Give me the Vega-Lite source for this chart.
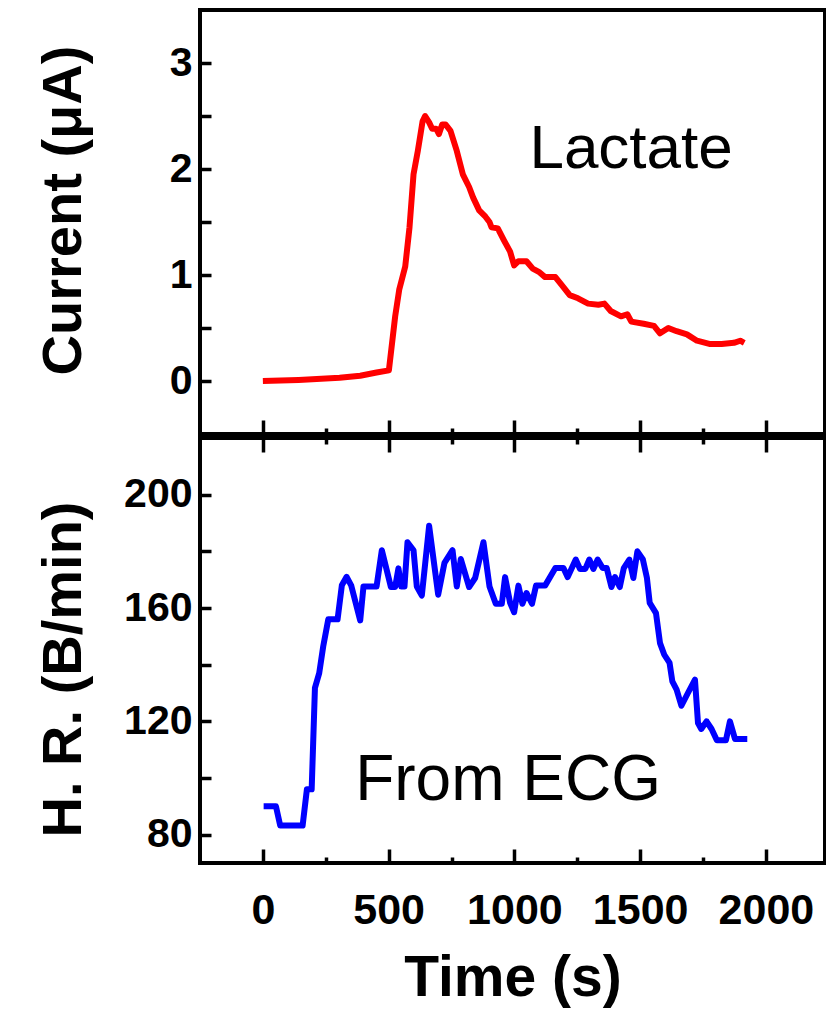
{
  "$schema": "https://vega.github.io/schema/vega-lite/v6.json",
  "background": "white",
  "padding": {"left": 32, "top": 8, "right": 2, "bottom": 0},
  "spacing": -8,
  "config": {
    "view": {"stroke": "black", "strokeWidth": 4},
    "font": "Liberation Sans",
    "axis": {"domain": false, "grid": false, "tickColor": "black", "tickWidth": 3.5, "labelFont": "Liberation Sans", "labelFontWeight": "bold", "labelColor": "black", "titleFont": "Liberation Sans", "titleFontWeight": "bold", "titleColor": "black"}
  },
  "datasets": {
    "lactate": [
      {"t":0,"current":0.0},{"t":142,"current":0.01},{"t":305,"current":0.03},{"t":387,"current":0.05},{"t":452,"current":0.08},{"t":501,"current":0.10},{"t":526,"current":0.61},{"t":542,"current":0.86},{"t":566,"current":1.08},{"t":583,"current":1.45},{"t":599,"current":1.95},{"t":616,"current":2.17},{"t":635,"current":2.45},{"t":645,"current":2.5},{"t":661,"current":2.44},{"t":673,"current":2.38},{"t":689,"current":2.38},{"t":700,"current":2.33},{"t":713,"current":2.42},{"t":726,"current":2.42},{"t":746,"current":2.36},{"t":771,"current":2.17},{"t":795,"current":1.95},{"t":820,"current":1.83},{"t":836,"current":1.73},{"t":860,"current":1.61},{"t":885,"current":1.55},{"t":901,"current":1.5},{"t":909,"current":1.45},{"t":934,"current":1.44},{"t":958,"current":1.33},{"t":983,"current":1.22},{"t":999,"current":1.09},{"t":1016,"current":1.13},{"t":1048,"current":1.13},{"t":1073,"current":1.06},{"t":1097,"current":1.03},{"t":1122,"current":0.98},{"t":1163,"current":0.98},{"t":1187,"current":0.91},{"t":1220,"current":0.81},{"t":1253,"current":0.78},{"t":1293,"current":0.73},{"t":1334,"current":0.72},{"t":1358,"current":0.73},{"t":1383,"current":0.66},{"t":1424,"current":0.61},{"t":1449,"current":0.63},{"t":1465,"current":0.56},{"t":1514,"current":0.54},{"t":1555,"current":0.52},{"t":1579,"current":0.45},{"t":1612,"current":0.5},{"t":1645,"current":0.47},{"t":1686,"current":0.44},{"t":1726,"current":0.38},{"t":1775,"current":0.35},{"t":1824,"current":0.35},{"t":1873,"current":0.36},{"t":1898,"current":0.38},{"t":1914,"current":0.36}
    ],
    "hr": [
      {"t":3,"hr":90},{"t":52,"hr":90},{"t":69,"hr":83.2},{"t":158,"hr":83.2},{"t":175,"hr":96},{"t":194,"hr":96},{"t":207,"hr":131.8},{"t":224,"hr":137},{"t":240,"hr":146.5},{"t":260,"hr":156},{"t":297,"hr":156},{"t":314,"hr":168},{"t":333,"hr":171},{"t":351,"hr":168},{"t":387,"hr":155.6},{"t":400,"hr":167.6},{"t":452,"hr":167.6},{"t":473,"hr":180.4},{"t":509,"hr":167.4},{"t":526,"hr":167.4},{"t":539,"hr":174},{"t":550,"hr":167.6},{"t":563,"hr":167.6},{"t":575,"hr":183.2},{"t":599,"hr":180.4},{"t":612,"hr":167.6},{"t":632,"hr":164.4},{"t":661,"hr":189},{"t":697,"hr":164.7},{"t":722,"hr":175.9},{"t":754,"hr":180.4},{"t":771,"hr":167.6},{"t":787,"hr":177.3},{"t":820,"hr":167.4},{"t":844,"hr":170.6},{"t":877,"hr":183.2},{"t":901,"hr":167.6},{"t":926,"hr":161.5},{"t":950,"hr":161.5},{"t":963,"hr":170.9},{"t":983,"hr":161.8},{"t":999,"hr":158.5},{"t":1016,"hr":167.9},{"t":1032,"hr":161.5},{"t":1048,"hr":165.3},{"t":1070,"hr":161.5},{"t":1086,"hr":167.9},{"t":1122,"hr":167.9},{"t":1163,"hr":174.1},{"t":1195,"hr":174.1},{"t":1212,"hr":170.9},{"t":1244,"hr":177.1},{"t":1261,"hr":173.8},{"t":1282,"hr":173.8},{"t":1298,"hr":177.1},{"t":1314,"hr":173.8},{"t":1331,"hr":177.1},{"t":1351,"hr":174.1},{"t":1367,"hr":174.1},{"t":1386,"hr":167.4},{"t":1400,"hr":170.9},{"t":1419,"hr":167.4},{"t":1435,"hr":174.1},{"t":1457,"hr":177.1},{"t":1473,"hr":170.6},{"t":1489,"hr":180},{"t":1511,"hr":177.1},{"t":1527,"hr":170.6},{"t":1538,"hr":161.8},{"t":1563,"hr":158.2},{"t":1579,"hr":147.6},{"t":1596,"hr":143.5},{"t":1617,"hr":140.6},{"t":1628,"hr":134.1},{"t":1645,"hr":131.2},{"t":1664,"hr":125.5},{"t":1690,"hr":130},{"t":1718,"hr":134.7},{"t":1730,"hr":119.4},{"t":1743,"hr":117.3},{"t":1764,"hr":120},{"t":1784,"hr":117.3},{"t":1805,"hr":113.3},{"t":1841,"hr":113.3},{"t":1857,"hr":120},{"t":1877,"hr":113.8},{"t":1926,"hr":113.8}
    ],
    "lab1": [{"t":1464,"v":2.19,"label":"Lactate"}],
    "lab2": [{"t":975,"v":99,"label":"From ECG"}]
  },
  "vconcat": [
    {
      "width": 625,
      "height": 424,
      "resolve": {"axis": {"x": "independent", "y": "independent"}},
      "layer": [
        {
          "data": {"name": "lactate"},
          "mark": {"type": "line", "color": "#ff0000", "strokeWidth": 6, "strokeJoin": "round"},
          "encoding": {
            "x": {"field": "t", "type": "quantitative", "scale": {"domain": [-250, 2235], "nice": false, "zero": false},
              "axis": {"orient": "bottom", "values": [0,250,500,750,1000,1250,1500,1750,2000], "labels": false, "title": null, "minExtent": 0, "maxExtent": 0,
                "tickSize": {"condition": {"test": "datum.value % 500 === 0", "value": -14}, "value": -6}}},
            "y": {"field": "current", "type": "quantitative", "scale": {"domain": [-0.5, 3.5], "nice": false, "zero": false},
              "axis": {"values": [0,0.5,1,1.5,2,2.5,3], "labelExpr": "datum.value % 1 === 0 ? format(datum.value, 'd') : ''", "tickSize": -11, "labelFontSize": 41, "labelPadding": 19,
                "title": "Current (μA)", "titleFontSize": 56, "titleX": -120, "titleY": 200, "titleBaseline": "alphabetic"}}
          }
        },
        {
          "data": {"name": "lab1"},
          "mark": {"type": "text", "fontSize": 62, "font": "Liberation Sans", "align": "center", "baseline": "middle", "color": "black"},
          "encoding": {
            "x": {"field": "t", "type": "quantitative", "axis": null},
            "y": {"field": "v", "type": "quantitative", "axis": null},
            "text": {"field": "label"}
          }
        }
      ]
    },
    {
      "width": 625,
      "height": 425,
      "resolve": {"axis": {"x": "independent", "y": "independent"}},
      "layer": [
        {
          "data": {"name": "hr"},
          "mark": {"type": "line", "color": "#0000ff", "strokeWidth": 6, "strokeJoin": "round"},
          "encoding": {
            "x": {"field": "t", "type": "quantitative", "scale": {"domain": [-250, 2235], "nice": false, "zero": false},
              "axis": {"orient": "bottom", "values": [0,250,500,750,1000,1250,1500,1750,2000], "format": "d", "labelExpr": "datum.value % 500 === 0 ? datum.label : ''", "labelFontSize": 43, "labelPadding": 40,
                "tickSize": {"condition": {"test": "datum.value % 500 === 0", "value": -14}, "value": -6},
                "title": "Time (s)", "titleFontSize": 57, "titlePadding": 18}},
            "y": {"field": "hr", "type": "quantitative", "scale": {"domain": [70, 220], "nice": false, "zero": false},
              "axis": {"values": [80,100,120,140,160,180,200], "labelExpr": "datum.value % 40 === 0 ? datum.label : ''", "tickSize": -11, "labelFontSize": 41, "labelPadding": 19,
                "title": "H. R. (B/min)", "titleFontSize": 56, "titleX": -120, "titleY": 231, "titleBaseline": "alphabetic"}}
          }
        },
        {
          "data": {"name": "lab2"},
          "mark": {"type": "text", "fontSize": 64, "font": "Liberation Sans", "align": "center", "baseline": "middle", "color": "black"},
          "encoding": {
            "x": {"field": "t", "type": "quantitative",
              "axis": {"orient": "top", "values": [0,250,500,750,1000,1250,1500,1750,2000], "labels": false, "title": null, "minExtent": 0, "maxExtent": 0,
                "tickSize": {"condition": {"test": "datum.value % 500 === 0", "value": -14}, "value": -6}}},
            "y": {"field": "v", "type": "quantitative", "axis": null},
            "text": {"field": "label"}
          }
        }
      ]
    }
  ]
}
